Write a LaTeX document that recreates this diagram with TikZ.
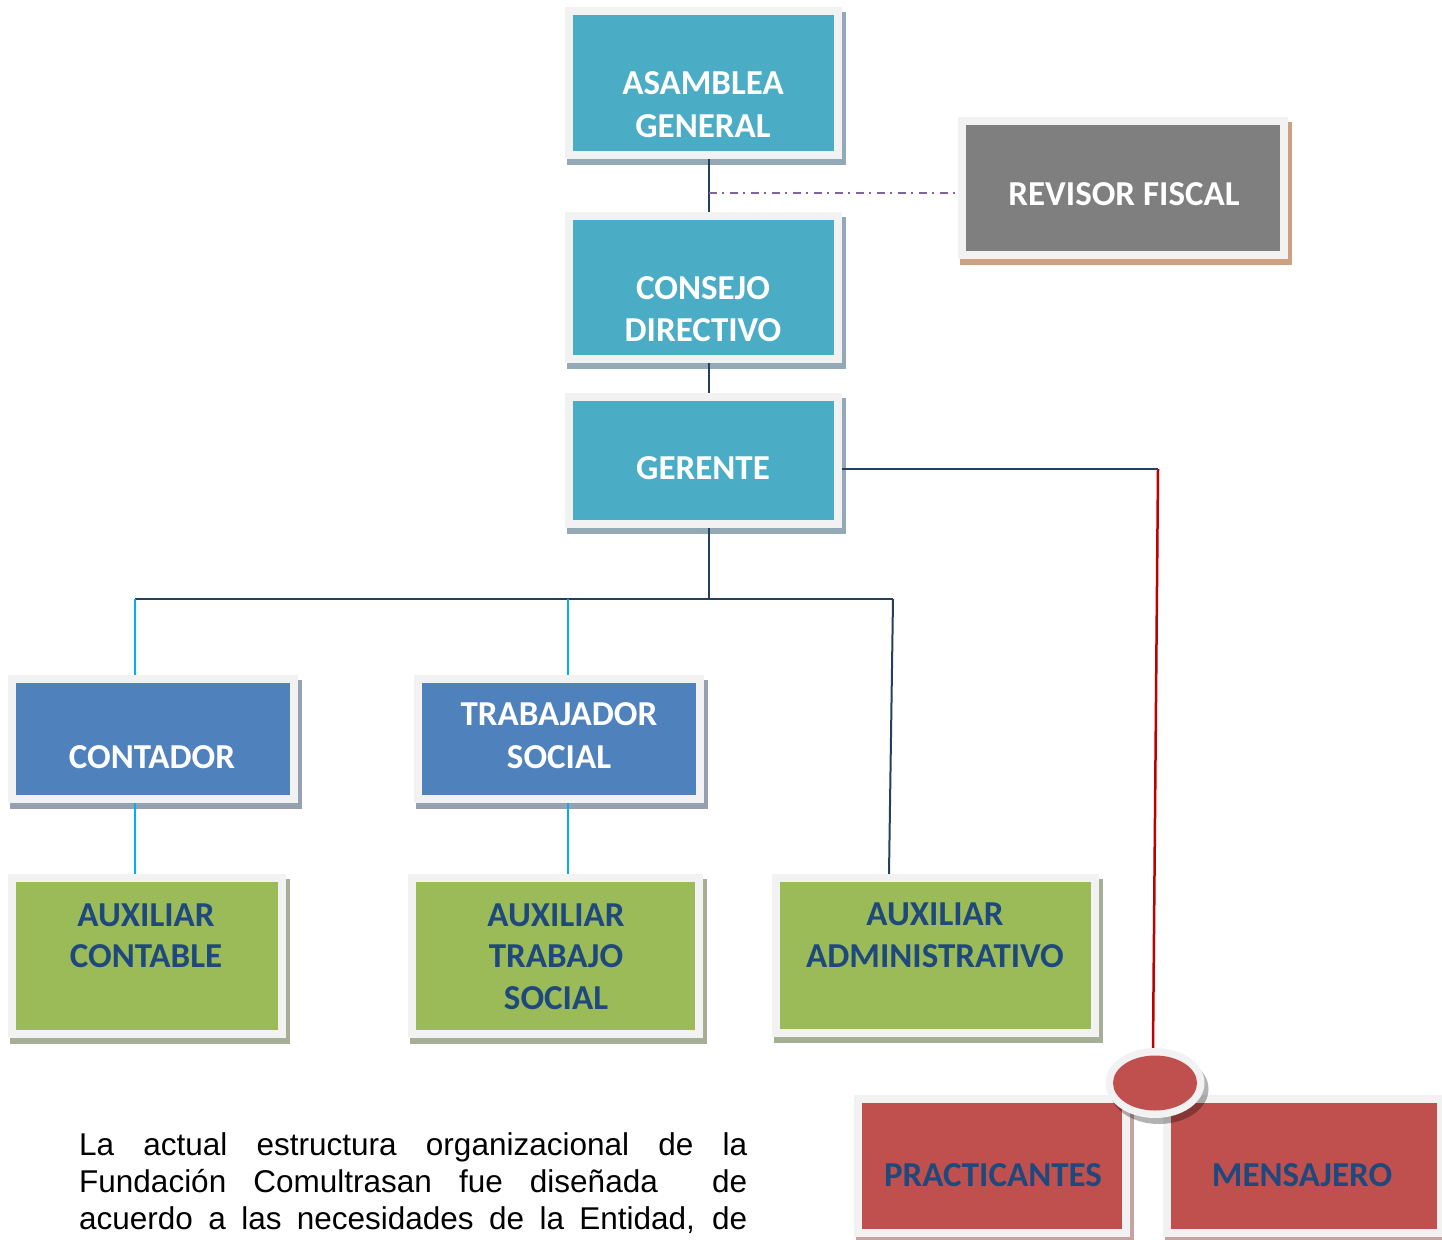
\documentclass[tikz,border=0pt]{standalone}
\usepackage{fontspec}
\setmainfont{Liberation Sans}
\newfontfamily\boxfont{Carlito}
\usetikzlibrary{shapes.geometric}
\definecolor{framegray}{HTML}{F2F2F2}
\definecolor{tealfill}{HTML}{4BACC6}
\definecolor{tealshadow}{HTML}{93A9B5}
\definecolor{bluefill}{HTML}{4F81BD}
\definecolor{blueshadow}{HTML}{95A1B0}
\definecolor{greenfill}{HTML}{9BBB59}
\definecolor{greenshadow}{HTML}{A6AF95}
\definecolor{grayfill}{HTML}{7F7F7F}
\definecolor{grayshadow}{HTML}{CDA17F}
\definecolor{redfill}{HTML}{C0504D}
\definecolor{redshadow}{HTML}{C4A3A1}
\definecolor{navytext}{HTML}{1F497D}
\definecolor{navyline}{HTML}{253F5F}
\definecolor{cyanline}{HTML}{00B0F0}
\definecolor{redline}{HTML}{C00000}
\definecolor{purpleline}{HTML}{8064A2}
\newcommand\orgbox[7]{%
  \fill[#7] (#2+2,#3+5) rectangle (#4+4,#5+6);
  \node[framebox, minimum width={(#4-#2)*1pt}, minimum height={(#5-#3)*1pt}] (#1) at ({(#2+#4)/2},{(#3+#5)/2}) {};
  \fill[#6] (#2+8,#3+8) rectangle (#4-8,#5-8);
}
\tikzset{
  framebox/.style={fill=framegray, draw=none, inner sep=0pt, rectangle},
  wlbl/.style={anchor=base, inner sep=0pt, text=white, font=\boxfont\bfseries\fontsize{35}{41}\selectfont},
  blbl/.style={wlbl, text=navytext},
  navyln/.style={draw=navyline, line width=2pt},
  cyanln/.style={draw=cyanline, line width=2pt},
  redln/.style={draw=redline, line width=2.5pt},
  dashdotln/.style={draw=purpleline, line width=2pt, dash pattern=on 8pt off 5pt on 2pt off 6pt},
  paraline/.style={anchor=base west, inner sep=0pt, font=\fontsize{31.5}{37}\selectfont}
}
\begin{document}
\begin{tikzpicture}[x=1pt,y=-1pt]
\useasboundingbox[fill=white] (0,0) rectangle (1442,1239);

% connectors
\coordinate (j1) at (709,193);
\coordinate (bJ) at (709,599);
\coordinate (bL) at (135,599);
\coordinate (bT) at (568,599);
\coordinate (bR) at (893,599);
\coordinate (k) at (1158,469);

% boxes
\orgbox{asm}{565}{7}{842}{159}{tealfill}{tealshadow}
\orgbox{cons}{565}{212}{842}{363}{tealfill}{tealshadow}
\orgbox{ger}{565}{393}{842}{528}{tealfill}{tealshadow}
\orgbox{rev}{958}{117}{1288}{259}{grayfill}{grayshadow}
\orgbox{cont}{8}{675}{298}{803}{bluefill}{blueshadow}
\orgbox{trab}{414}{675}{704}{803}{bluefill}{blueshadow}
\orgbox{auxc}{8}{874}{286}{1038}{greenfill}{greenshadow}
\orgbox{auxt}{408}{874}{703}{1038}{greenfill}{greenshadow}
\orgbox{auxa}{772}{874}{1099}{1037}{greenfill}{greenshadow}
\orgbox{prac}{854}{1095}{1130}{1237}{redfill}{redshadow}
\orgbox{mens}{1163}{1095}{1445}{1237}{redfill}{redshadow}

\draw[navyln] ([xshift=5.5pt]asm.south) -- ([xshift=5.5pt]cons.north);
\draw[dashdotln] (j1) -- (j1 -| rev.west);
\draw[navyln] ([xshift=5.5pt]cons.south) -- ([xshift=5.5pt]ger.north);
\draw[navyln] ([xshift=5.5pt]ger.south) -- (bJ);
\draw[navyln] (bL) -- (bR);
\draw[cyanln] (bL) -- (bL |- cont.north);
\draw[cyanln] (bT) -- (bT |- trab.north);
\draw[cyanln] (bL |- cont.south) -- (bL |- auxc.north);
\draw[cyanln] (bT |- trab.south) -- (bT |- auxt.north);
\draw[navyln] (bR) -- ([xshift=-46.5pt]auxa.north);
\draw[navyln] (ger.east |- k) -- (k);

% ellipse
\node[ellipse, fill=black, opacity=0.3, minimum width=99pt, minimum height=70pt, inner sep=0pt] (circs) at (1159,1089) {};
\node[ellipse, fill=framegray, minimum width=99pt, minimum height=70pt, inner sep=0pt] (circ) at (1155,1083) {};
\node[ellipse, fill=redfill, minimum width=84pt, minimum height=55pt, inner sep=0pt] (circi) at (circ) {};
\draw[redln] (k) -- ([xshift=-2pt]circ.north);

% labels
\node[wlbl] (asmA) at (703,94) {ASAMBLEA};
\node[wlbl] (asmB) at (703,137) {GENERAL};
\node[wlbl] (consA) at (703,299) {CONSEJO};
\node[wlbl] (consB) at (703,341) {DIRECTIVO};
\node[wlbl] (gerA) at (703,479) {GERENTE};
\node[wlbl] (revA) at (1124,205) {REVISOR FISCAL};
\node[wlbl] (contA) at (152,768) {CONTADOR};
\node[wlbl] (trabA) at (559,725) {TRABAJADOR};
\node[wlbl] (trabB) at (559,768) {SOCIAL};
\node[blbl] (auxcA) at (146,926) {AUXILIAR};
\node[blbl] (auxcB) at (146,967) {CONTABLE};
\node[blbl] (auxtA) at (556,926) {AUXILIAR};
\node[blbl] (auxtB) at (556,967) {TRABAJO};
\node[blbl] (auxtC) at (556,1009) {SOCIAL};
\node[blbl] (auxaA) at (935,925) {AUXILIAR};
\node[blbl] (auxaB) at (935,967) {ADMINISTRATIVO};
\node[blbl] (pracA) at (993,1186) {PRACTICANTES};
\node[blbl] (mensA) at (1302,1186) {MENSAJERO};

% paragraph
\node[paraline] (p1) at (79,1155) {\makebox[668pt][s]{La actual estructura organizacional de la}};
\node[paraline] (p2) at (79,1192) {\makebox[668pt][s]{Fundación Comultrasan fue diseñada\ \ de}};
\node[paraline] (p3) at (79,1229) {\makebox[668pt][s]{acuerdo a las necesidades de la Entidad, de}};
\end{tikzpicture}
\end{document}
